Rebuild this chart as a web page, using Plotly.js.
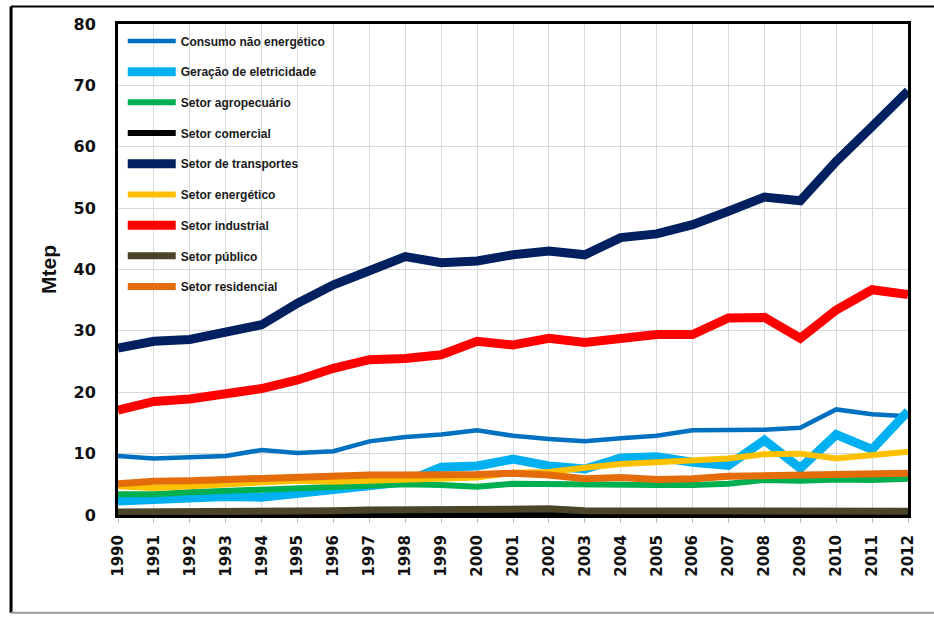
<!DOCTYPE html>
<html><head><meta charset="utf-8">
<script src="https://cdn.plot.ly/plotly-3.0.1.min.js"></script>
<style>body{margin:0;background:#fff}#chart{width:934px;height:617px}</style>
</head><body><div id="chart"></div>
<script>
const years = [1990,1991,1992,1993,1994,1995,1996,1997,1998,1999,2000,2001,2002,2003,2004,2005,2006,2007,2008,2009,2010,2011,2012];
const seriesNames = ["Consumo não energético","Geração de eletricidade","Setor agropecuário","Setor comercial","Setor de transportes","Setor energético","Setor industrial","Setor público","Setor residencial"];
const consumoNaoEnergetico = [9.6,9.2,9.4,9.6,10.6,10.1,10.4,12.0,12.7,13.1,13.8,12.9,12.4,12.0,12.5,12.9,13.8,13.8,13.9,14.2,17.2,16.4,16.1];
const geracaoEletricidade = [2.3,2.6,3.0,3.0,2.9,3.5,3.9,4.6,5.4,7.8,8.0,9.1,8.0,7.5,9.3,9.5,8.6,8.1,12.2,7.6,13.1,10.7,16.9];
const setorAgropecuario = [3.4,3.4,3.7,3.9,4.1,4.3,4.5,4.9,5.0,4.9,4.6,5.1,5.0,5.0,5.0,4.9,4.9,5.1,5.7,5.6,5.8,5.7,5.9];
const setorComercial = [0.1,0.1,0.1,0.1,0.1,0.1,0.1,0.1,0.1,0.1,0.1,0.1,0.1,0.1,0.1,0.1,0.1,0.1,0.1,0.1,0.1,0.1,0.1];
const setorTransportes = [27.2,28.3,28.6,29.7,31.0,34.5,37.5,39.8,42.1,41.1,41.4,42.4,43.0,42.4,45.2,45.8,47.3,49.5,51.8,51.2,57.6,63.3,69.1];
const setorEnergetico = [4.7,4.4,4.7,5.0,5.3,5.6,5.4,5.6,5.8,5.9,6.1,6.9,7.0,7.7,8.3,8.6,9.0,9.2,9.9,10.0,9.2,9.7,10.3];
const setorIndustrial = [17.1,18.5,18.9,19.9,20.6,22.0,23.9,25.3,25.5,26.1,28.3,27.7,28.8,28.1,28.8,29.4,29.4,32.1,32.2,28.8,33.4,36.7,35.9];
const setorPublico = [0.5,0.5,0.5,0.5,0.6,0.7,0.7,0.8,0.8,0.8,0.9,0.9,1.0,0.7,0.7,0.7,0.7,0.7,0.7,0.6,0.6,0.6,0.6];
const setorResidencial = [5.1,5.5,5.6,5.8,5.9,6.3,6.5,6.5,6.5,6.5,6.6,6.8,6.5,5.9,6.1,5.8,5.9,6.3,6.4,6.4,6.5,6.6,6.8];
const yTicks = [0,10,20,30,40,50,60,70,80];

const values = [consumoNaoEnergetico,geracaoEletricidade,setorAgropecuario,setorComercial,setorTransportes,setorEnergetico,setorIndustrial,setorPublico,setorResidencial];
const colors = ["#0070C0","#00B0F0","#00B050","#000000","#002060","#FFC000","#FF0000","#4A4529","#E46C0A"];
const widths = [4.5,9,6,6,9,6,9,7,7];

const traces = seriesNames.map((n,i)=>({
  type:'scatter', mode:'lines', name:n, x:years, y:values[i],
  line:{color:colors[i], width:widths[i]}, legendgroup:'g'+i, hoverinfo:'skip'
}));

const layout = {
  width:934, height:617,
  margin:{l:118, r:26, t:24, b:102},
  paper_bgcolor:'#fff', plot_bgcolor:'#fff',
  showlegend:true,
  legend:{x:0.006, y:0.995, xanchor:'left', yanchor:'top', bgcolor:'rgba(0,0,0,0)', borderwidth:0,
    font:{family:'Liberation Sans, Arial, sans-serif', size:12, color:'#1a1a1a', weight:'bold'},
    tracegroupgap:11.7, traceorder:'grouped', itemwidth:48},
  xaxis:{range:[1990,2012], tickmode:'array', tickvals:years, ticktext:years.map(String),
    tickangle:-90, ticks:'outside', ticklen:5, tickcolor:'#bfbfbf', tickwidth:1, ticklabelstandoff:6,
    showgrid:true, gridcolor:'#d9d9d9', gridwidth:1, zeroline:false,
    showline:true, linecolor:'#000', linewidth:3, mirror:true,
    tickfont:{family:'DejaVu Sans, sans-serif', size:15, color:'#111', weight:'bold'}},
  yaxis:{range:[0,80], tickmode:'array', tickvals:yTicks, ticks:'', ticklabelstandoff:16,
    showgrid:true, gridcolor:'#d9d9d9', gridwidth:1, zeroline:false,
    showline:true, linecolor:'#000', linewidth:3, mirror:true,
    tickfont:{family:'DejaVu Sans, sans-serif', size:16, color:'#111', weight:'bold'},
    title:{text:'Mtep', standoff:12, font:{family:'Liberation Sans, Arial, sans-serif', size:21, color:'#111', weight:'bold'}}},
  shapes:[
    {type:'line', xref:'paper', yref:'paper', x0:-0.1354, x1:1.06, y0:1.0357, y1:1.0357, line:{color:'#000', width:2}},
    {type:'line', xref:'paper', yref:'paper', x0:-0.1354, x1:-0.1354, y0:1.0357, y1:-0.199, line:{color:'#000', width:3}},
    {type:'line', xref:'paper', yref:'paper', x0:-0.1354, x1:1.06, y0:-0.199, y1:-0.199, line:{color:'#999', width:2}}
  ]
};
Plotly.newPlot('chart', traces, layout, {staticPlot:true});
</script></body></html>
